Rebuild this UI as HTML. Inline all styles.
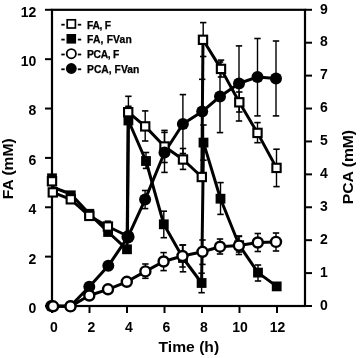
<!DOCTYPE html>
<html><head><meta charset="utf-8"><style>
html,body{margin:0;padding:0;background:#fff;}
body{width:360px;height:358px;overflow:hidden;}
svg{display:block;will-change:transform;}
text{font-family:"Liberation Sans",sans-serif;font-weight:bold;fill:#000;stroke:none;font-size:14px;}
text.lg{font-size:10.3px;stroke:#000;stroke-width:0.25px;}
text.at{font-size:15px;}
</style></head><body>
<svg width="360" height="358" viewBox="0 0 360 358">
<rect width="360" height="358" fill="#fff"/>
<g stroke="#000" stroke-linecap="butt">
<rect x="52.00" y="9.80" width="253.00" height="296.20" fill="none" stroke-width="2.2"/>
<line x1="45" y1="306.00" x2="52.00" y2="306.00" stroke-width="2"/>
<line x1="45" y1="256.63" x2="52.00" y2="256.63" stroke-width="2"/>
<line x1="45" y1="207.27" x2="52.00" y2="207.27" stroke-width="2"/>
<line x1="45" y1="157.90" x2="52.00" y2="157.90" stroke-width="2"/>
<line x1="45" y1="108.53" x2="52.00" y2="108.53" stroke-width="2"/>
<line x1="45" y1="59.17" x2="52.00" y2="59.17" stroke-width="2"/>
<line x1="45" y1="9.80" x2="52.00" y2="9.80" stroke-width="2"/>
<line x1="305" y1="306.00" x2="312" y2="306.00" stroke-width="2"/>
<line x1="305" y1="273.09" x2="312" y2="273.09" stroke-width="2"/>
<line x1="305" y1="240.18" x2="312" y2="240.18" stroke-width="2"/>
<line x1="305" y1="207.27" x2="312" y2="207.27" stroke-width="2"/>
<line x1="305" y1="174.36" x2="312" y2="174.36" stroke-width="2"/>
<line x1="305" y1="141.44" x2="312" y2="141.44" stroke-width="2"/>
<line x1="305" y1="108.53" x2="312" y2="108.53" stroke-width="2"/>
<line x1="305" y1="75.62" x2="312" y2="75.62" stroke-width="2"/>
<line x1="305" y1="42.71" x2="312" y2="42.71" stroke-width="2"/>
<line x1="305" y1="9.80" x2="312" y2="9.80" stroke-width="2"/>
<line x1="52.00" y1="306.00" x2="52.00" y2="313" stroke-width="2"/>
<line x1="89.50" y1="306.00" x2="89.50" y2="313" stroke-width="2"/>
<line x1="127.00" y1="306.00" x2="127.00" y2="313" stroke-width="2"/>
<line x1="164.50" y1="306.00" x2="164.50" y2="313" stroke-width="2"/>
<line x1="202.00" y1="306.00" x2="202.00" y2="313" stroke-width="2"/>
<line x1="239.50" y1="306.00" x2="239.50" y2="313" stroke-width="2"/>
<line x1="277.00" y1="306.00" x2="277.00" y2="313" stroke-width="2"/>
<line x1="128.40" y1="96.30" x2="128.40" y2="106.30" stroke-width="1.4"/>
<line x1="125.20" y1="96.30" x2="131.60" y2="96.30" stroke-width="1.6"/>
<line x1="125.20" y1="106.30" x2="131.60" y2="106.30" stroke-width="1.6"/>
<line x1="145.20" y1="110.90" x2="145.20" y2="141.00" stroke-width="1.4"/>
<line x1="142.00" y1="110.90" x2="148.40" y2="110.90" stroke-width="1.6"/>
<line x1="142.00" y1="141.00" x2="148.40" y2="141.00" stroke-width="1.6"/>
<line x1="164.50" y1="130.40" x2="164.50" y2="162.50" stroke-width="1.4"/>
<line x1="161.30" y1="130.40" x2="167.70" y2="130.40" stroke-width="1.6"/>
<line x1="161.30" y1="162.50" x2="167.70" y2="162.50" stroke-width="1.6"/>
<line x1="183.00" y1="148.50" x2="183.00" y2="169.40" stroke-width="1.4"/>
<line x1="179.80" y1="148.50" x2="186.20" y2="148.50" stroke-width="1.6"/>
<line x1="179.80" y1="169.40" x2="186.20" y2="169.40" stroke-width="1.6"/>
<line x1="203.20" y1="22.60" x2="203.20" y2="56.50" stroke-width="1.4"/>
<line x1="200.00" y1="22.60" x2="206.40" y2="22.60" stroke-width="1.6"/>
<line x1="200.00" y1="56.50" x2="206.40" y2="56.50" stroke-width="1.6"/>
<line x1="221.00" y1="60.10" x2="221.00" y2="77.00" stroke-width="1.4"/>
<line x1="217.80" y1="60.10" x2="224.20" y2="60.10" stroke-width="1.6"/>
<line x1="217.80" y1="77.00" x2="224.20" y2="77.00" stroke-width="1.6"/>
<line x1="239.30" y1="92.00" x2="239.30" y2="112.00" stroke-width="1.4"/>
<line x1="236.10" y1="92.00" x2="242.50" y2="92.00" stroke-width="1.6"/>
<line x1="236.10" y1="112.00" x2="242.50" y2="112.00" stroke-width="1.6"/>
<line x1="257.50" y1="122.60" x2="257.50" y2="142.70" stroke-width="1.4"/>
<line x1="254.30" y1="122.60" x2="260.70" y2="122.60" stroke-width="1.6"/>
<line x1="254.30" y1="142.70" x2="260.70" y2="142.70" stroke-width="1.6"/>
<line x1="276.50" y1="149.20" x2="276.50" y2="186.60" stroke-width="1.4"/>
<line x1="273.30" y1="149.20" x2="279.70" y2="149.20" stroke-width="1.6"/>
<line x1="273.30" y1="186.60" x2="279.70" y2="186.60" stroke-width="1.6"/>
<line x1="146.00" y1="152.50" x2="146.00" y2="168.40" stroke-width="1.4"/>
<line x1="142.80" y1="152.50" x2="149.20" y2="152.50" stroke-width="1.6"/>
<line x1="142.80" y1="168.40" x2="149.20" y2="168.40" stroke-width="1.6"/>
<line x1="163.80" y1="211.20" x2="163.80" y2="237.70" stroke-width="1.4"/>
<line x1="160.60" y1="211.20" x2="167.00" y2="211.20" stroke-width="1.6"/>
<line x1="160.60" y1="237.70" x2="167.00" y2="237.70" stroke-width="1.6"/>
<line x1="183.00" y1="245.00" x2="183.00" y2="271.80" stroke-width="1.4"/>
<line x1="179.80" y1="245.00" x2="186.20" y2="245.00" stroke-width="1.6"/>
<line x1="179.80" y1="271.80" x2="186.20" y2="271.80" stroke-width="1.6"/>
<line x1="201.60" y1="273.20" x2="201.60" y2="292.70" stroke-width="1.4"/>
<line x1="198.40" y1="273.20" x2="204.80" y2="273.20" stroke-width="1.6"/>
<line x1="198.40" y1="292.70" x2="204.80" y2="292.70" stroke-width="1.6"/>
<line x1="203.50" y1="125.00" x2="203.50" y2="160.20" stroke-width="1.4"/>
<line x1="200.30" y1="125.00" x2="206.70" y2="125.00" stroke-width="1.6"/>
<line x1="200.30" y1="160.20" x2="206.70" y2="160.20" stroke-width="1.6"/>
<line x1="220.50" y1="182.60" x2="220.50" y2="214.40" stroke-width="1.4"/>
<line x1="217.30" y1="182.60" x2="223.70" y2="182.60" stroke-width="1.6"/>
<line x1="217.30" y1="214.40" x2="223.70" y2="214.40" stroke-width="1.6"/>
<line x1="258.00" y1="265.00" x2="258.00" y2="281.00" stroke-width="1.4"/>
<line x1="254.80" y1="265.00" x2="261.20" y2="265.00" stroke-width="1.6"/>
<line x1="254.80" y1="281.00" x2="261.20" y2="281.00" stroke-width="1.6"/>
<line x1="239.00" y1="236.00" x2="239.00" y2="252.00" stroke-width="1.4"/>
<line x1="235.80" y1="236.00" x2="242.20" y2="236.00" stroke-width="1.6"/>
<line x1="235.80" y1="252.00" x2="242.20" y2="252.00" stroke-width="1.6"/>
<line x1="107.90" y1="221.20" x2="107.90" y2="231.20" stroke-width="1.4"/>
<line x1="104.70" y1="221.20" x2="111.10" y2="221.20" stroke-width="1.6"/>
<line x1="104.70" y1="231.20" x2="111.10" y2="231.20" stroke-width="1.6"/>
<line x1="145.10" y1="190.50" x2="145.10" y2="208.60" stroke-width="1.4"/>
<line x1="141.90" y1="190.50" x2="148.30" y2="190.50" stroke-width="1.6"/>
<line x1="141.90" y1="208.60" x2="148.30" y2="208.60" stroke-width="1.6"/>
<line x1="164.50" y1="132.40" x2="164.50" y2="172.40" stroke-width="1.4"/>
<line x1="161.30" y1="132.40" x2="167.70" y2="132.40" stroke-width="1.6"/>
<line x1="161.30" y1="172.40" x2="167.70" y2="172.40" stroke-width="1.6"/>
<line x1="182.90" y1="94.60" x2="182.90" y2="153.50" stroke-width="1.4"/>
<line x1="179.70" y1="94.60" x2="186.10" y2="94.60" stroke-width="1.6"/>
<line x1="179.70" y1="153.50" x2="186.10" y2="153.50" stroke-width="1.6"/>
<line x1="202.20" y1="79.30" x2="202.20" y2="144.00" stroke-width="1.4"/>
<line x1="199.00" y1="79.30" x2="205.40" y2="79.30" stroke-width="1.6"/>
<line x1="199.00" y1="144.00" x2="205.40" y2="144.00" stroke-width="1.6"/>
<line x1="220.00" y1="62.00" x2="220.00" y2="132.60" stroke-width="1.4"/>
<line x1="216.80" y1="62.00" x2="223.20" y2="62.00" stroke-width="1.6"/>
<line x1="216.80" y1="132.60" x2="223.20" y2="132.60" stroke-width="1.6"/>
<line x1="239.00" y1="45.90" x2="239.00" y2="121.00" stroke-width="1.4"/>
<line x1="235.80" y1="45.90" x2="242.20" y2="45.90" stroke-width="1.6"/>
<line x1="235.80" y1="121.00" x2="242.20" y2="121.00" stroke-width="1.6"/>
<line x1="257.50" y1="38.50" x2="257.50" y2="115.90" stroke-width="1.4"/>
<line x1="254.30" y1="38.50" x2="260.70" y2="38.50" stroke-width="1.6"/>
<line x1="254.30" y1="115.90" x2="260.70" y2="115.90" stroke-width="1.6"/>
<line x1="276.00" y1="41.00" x2="276.00" y2="115.90" stroke-width="1.4"/>
<line x1="272.80" y1="41.00" x2="279.20" y2="41.00" stroke-width="1.6"/>
<line x1="272.80" y1="115.90" x2="279.20" y2="115.90" stroke-width="1.6"/>
<line x1="145.40" y1="264.00" x2="145.40" y2="278.30" stroke-width="1.4"/>
<line x1="142.20" y1="264.00" x2="148.60" y2="264.00" stroke-width="1.6"/>
<line x1="142.20" y1="278.30" x2="148.60" y2="278.30" stroke-width="1.6"/>
<line x1="163.60" y1="252.60" x2="163.60" y2="270.60" stroke-width="1.4"/>
<line x1="160.40" y1="252.60" x2="166.80" y2="252.60" stroke-width="1.6"/>
<line x1="160.40" y1="270.60" x2="166.80" y2="270.60" stroke-width="1.6"/>
<line x1="182.50" y1="245.00" x2="182.50" y2="267.00" stroke-width="1.4"/>
<line x1="179.30" y1="245.00" x2="185.70" y2="245.00" stroke-width="1.6"/>
<line x1="179.30" y1="267.00" x2="185.70" y2="267.00" stroke-width="1.6"/>
<line x1="202.50" y1="240.00" x2="202.50" y2="264.40" stroke-width="1.4"/>
<line x1="199.30" y1="240.00" x2="205.70" y2="240.00" stroke-width="1.6"/>
<line x1="199.30" y1="264.40" x2="205.70" y2="264.40" stroke-width="1.6"/>
<line x1="220.00" y1="239.00" x2="220.00" y2="254.00" stroke-width="1.4"/>
<line x1="216.80" y1="239.00" x2="223.20" y2="239.00" stroke-width="1.6"/>
<line x1="216.80" y1="254.00" x2="223.20" y2="254.00" stroke-width="1.6"/>
<line x1="238.90" y1="236.50" x2="238.90" y2="254.50" stroke-width="1.4"/>
<line x1="235.70" y1="236.50" x2="242.10" y2="236.50" stroke-width="1.6"/>
<line x1="235.70" y1="254.50" x2="242.10" y2="254.50" stroke-width="1.6"/>
<line x1="257.80" y1="233.50" x2="257.80" y2="251.50" stroke-width="1.4"/>
<line x1="254.60" y1="233.50" x2="261.00" y2="233.50" stroke-width="1.6"/>
<line x1="254.60" y1="251.50" x2="261.00" y2="251.50" stroke-width="1.6"/>
<line x1="276.00" y1="233.00" x2="276.00" y2="251.00" stroke-width="1.4"/>
<line x1="272.80" y1="233.00" x2="279.20" y2="233.00" stroke-width="1.6"/>
<line x1="272.80" y1="251.00" x2="279.20" y2="251.00" stroke-width="1.6"/>
<polyline points="52.80,192.40 70.80,199.30 89.30,215.90 107.90,226.50 127.50,236.00" fill="none" stroke-width="3.0" stroke-linejoin="round"/>
<polyline points="128.20,112.20 145.20,126.40 164.50,146.50 183.00,159.50 201.80,177.00" fill="none" stroke-width="3.0" stroke-linejoin="round"/>
<polyline points="203.00,39.80 221.00,68.90 239.30,102.30 257.50,132.90 276.50,167.90" fill="none" stroke-width="3.0" stroke-linejoin="round"/>
<line x1="127.50" y1="236.00" x2="128.20" y2="112.20" stroke-width="3.0"/>
<line x1="201.80" y1="177.00" x2="203.00" y2="39.80" stroke-width="3.0"/>
<polyline points="52.00,187.00 70.80,194.00 89.30,213.80 108.10,232.00 127.00,249.30" fill="none" stroke-width="3.0" stroke-linejoin="round"/>
<polyline points="128.40,120.50 146.00,161.00 163.80,224.30 183.00,258.00 201.60,283.00" fill="none" stroke-width="3.0" stroke-linejoin="round"/>
<polyline points="203.50,142.60 220.50,198.70 239.20,245.20 258.00,272.60 276.70,286.40" fill="none" stroke-width="3.0" stroke-linejoin="round"/>
<line x1="127.00" y1="249.30" x2="128.40" y2="120.50" stroke-width="3.0"/>
<line x1="201.60" y1="283.00" x2="203.50" y2="142.60" stroke-width="3.0"/>
<polyline points="53.10,306.30 70.50,306.40 89.30,295.50 108.00,289.30 126.80,281.80 145.40,271.40 163.60,261.50 182.50,256.00 202.50,251.80 220.00,246.70 238.90,245.60 257.80,242.50 276.00,241.90" fill="none" stroke-width="3.0" stroke-linejoin="round"/>
<polyline points="51.20,306.00 70.50,306.00 89.30,286.80 108.30,265.80 128.00,236.80 145.10,199.60 164.50,152.50 182.90,124.00 202.20,111.60 220.00,96.50 239.00,83.40 257.50,77.00 276.00,78.50" fill="none" stroke-width="3.0" stroke-linejoin="round"/>
<rect x="47.10" y="173.40" width="9.8" height="9.8" fill="#000" stroke="none"/>
<rect x="65.90" y="190.40" width="9.8" height="9.8" fill="#000" stroke="none"/>
<rect x="84.40" y="208.90" width="9.8" height="9.8" fill="#000" stroke="none"/>
<rect x="103.20" y="227.10" width="9.8" height="9.8" fill="#000" stroke="none"/>
<rect x="122.10" y="244.40" width="9.8" height="9.8" fill="#000" stroke="none"/>
<rect x="123.50" y="115.60" width="9.8" height="9.8" fill="#000" stroke="none"/>
<rect x="141.10" y="156.10" width="9.8" height="9.8" fill="#000" stroke="none"/>
<rect x="158.90" y="219.40" width="9.8" height="9.8" fill="#000" stroke="none"/>
<rect x="178.10" y="253.10" width="9.8" height="9.8" fill="#000" stroke="none"/>
<rect x="196.70" y="278.10" width="9.8" height="9.8" fill="#000" stroke="none"/>
<rect x="198.60" y="137.70" width="9.8" height="9.8" fill="#000" stroke="none"/>
<rect x="215.60" y="193.80" width="9.8" height="9.8" fill="#000" stroke="none"/>
<rect x="234.30" y="240.30" width="9.8" height="9.8" fill="#000" stroke="none"/>
<rect x="253.10" y="267.70" width="9.8" height="9.8" fill="#000" stroke="none"/>
<rect x="271.80" y="281.50" width="9.8" height="9.8" fill="#000" stroke="none"/>
<rect x="48.65" y="188.25" width="8.3" height="8.3" fill="#fff" stroke-width="2.1"/>
<rect x="66.65" y="195.15" width="8.3" height="8.3" fill="#fff" stroke-width="2.1"/>
<rect x="85.15" y="211.75" width="8.3" height="8.3" fill="#fff" stroke-width="2.1"/>
<rect x="103.75" y="222.35" width="8.3" height="8.3" fill="#fff" stroke-width="2.1"/>
<rect x="124.05" y="108.05" width="8.3" height="8.3" fill="#fff" stroke-width="2.1"/>
<rect x="141.05" y="122.25" width="8.3" height="8.3" fill="#fff" stroke-width="2.1"/>
<rect x="160.35" y="142.35" width="8.3" height="8.3" fill="#fff" stroke-width="2.1"/>
<rect x="178.85" y="155.35" width="8.3" height="8.3" fill="#fff" stroke-width="2.1"/>
<rect x="197.65" y="172.85" width="8.3" height="8.3" fill="#fff" stroke-width="2.1"/>
<rect x="198.85" y="35.65" width="8.3" height="8.3" fill="#fff" stroke-width="2.1"/>
<rect x="216.85" y="64.75" width="8.3" height="8.3" fill="#fff" stroke-width="2.1"/>
<rect x="235.15" y="98.15" width="8.3" height="8.3" fill="#fff" stroke-width="2.1"/>
<rect x="253.35" y="128.75" width="8.3" height="8.3" fill="#fff" stroke-width="2.1"/>
<rect x="272.35" y="163.75" width="8.3" height="8.3" fill="#fff" stroke-width="2.1"/>
<rect x="47.85" y="177.15" width="8.3" height="8.3" fill="#fff" stroke-width="2.1"/>
<circle cx="51.20" cy="306.00" r="6.0" fill="#000" stroke="none"/>
<circle cx="70.50" cy="306.00" r="6.0" fill="#000" stroke="none"/>
<circle cx="89.30" cy="286.80" r="6.0" fill="#000" stroke="none"/>
<circle cx="108.30" cy="265.80" r="6.0" fill="#000" stroke="none"/>
<circle cx="128.00" cy="236.80" r="6.0" fill="#000" stroke="none"/>
<circle cx="145.10" cy="199.60" r="6.0" fill="#000" stroke="none"/>
<circle cx="164.50" cy="152.50" r="6.0" fill="#000" stroke="none"/>
<circle cx="182.90" cy="124.00" r="6.0" fill="#000" stroke="none"/>
<circle cx="202.20" cy="111.60" r="6.0" fill="#000" stroke="none"/>
<circle cx="220.00" cy="96.50" r="6.0" fill="#000" stroke="none"/>
<circle cx="239.00" cy="83.40" r="6.0" fill="#000" stroke="none"/>
<circle cx="257.50" cy="77.00" r="6.0" fill="#000" stroke="none"/>
<circle cx="276.00" cy="78.50" r="6.0" fill="#000" stroke="none"/>
<circle cx="128" cy="236.8" r="6.6" fill="#000" stroke="none"/>
<circle cx="53.10" cy="306.30" r="5.0" fill="#fff" stroke-width="2.4"/>
<circle cx="70.50" cy="306.40" r="5.0" fill="#fff" stroke-width="2.4"/>
<circle cx="89.30" cy="295.50" r="5.0" fill="#fff" stroke-width="2.4"/>
<circle cx="108.00" cy="289.30" r="5.0" fill="#fff" stroke-width="2.4"/>
<circle cx="126.80" cy="281.80" r="5.0" fill="#fff" stroke-width="2.4"/>
<circle cx="145.40" cy="271.40" r="5.0" fill="#fff" stroke-width="2.4"/>
<circle cx="163.60" cy="261.50" r="5.0" fill="#fff" stroke-width="2.4"/>
<circle cx="182.50" cy="256.00" r="5.0" fill="#fff" stroke-width="2.4"/>
<circle cx="202.50" cy="251.80" r="5.0" fill="#fff" stroke-width="2.4"/>
<circle cx="220.00" cy="246.70" r="5.0" fill="#fff" stroke-width="2.4"/>
<circle cx="238.90" cy="245.60" r="5.0" fill="#fff" stroke-width="2.4"/>
<circle cx="257.80" cy="242.50" r="5.0" fill="#fff" stroke-width="2.4"/>
<circle cx="276.00" cy="241.90" r="5.0" fill="#fff" stroke-width="2.4"/>
<line x1="61.3" y1="24.70" x2="64.7" y2="24.70" stroke-width="1.8"/>
<line x1="77.8" y1="24.70" x2="81.2" y2="24.70" stroke-width="1.8"/>
<rect x="67.20" y="19.80" width="8.2" height="8.2" fill="#fff" stroke-width="1.7"/>
<text x="87.0" y="28.50" class="lg" textLength="24.0" lengthAdjust="spacing">FA, F</text>
<line x1="61.3" y1="39.60" x2="64.7" y2="39.60" stroke-width="1.8"/>
<line x1="77.8" y1="39.60" x2="81.2" y2="39.60" stroke-width="1.8"/>
<rect x="66.50" y="34.00" width="9.6" height="9.6" fill="#000" stroke="none"/>
<text x="87.0" y="43.20" class="lg" textLength="44.8" lengthAdjust="spacing">FA, FVan</text>
<line x1="61.3" y1="54.50" x2="64.7" y2="54.50" stroke-width="1.8"/>
<line x1="77.8" y1="54.50" x2="81.2" y2="54.50" stroke-width="1.8"/>
<circle cx="71.30" cy="53.70" r="4.6" fill="#fff" stroke-width="1.8"/>
<text x="87.0" y="58.00" class="lg" textLength="32.3" lengthAdjust="spacing">PCA, F</text>
<line x1="61.3" y1="69.30" x2="64.7" y2="69.30" stroke-width="1.8"/>
<line x1="77.8" y1="69.30" x2="81.2" y2="69.30" stroke-width="1.8"/>
<circle cx="71.30" cy="68.50" r="5.4" fill="#000" stroke="none"/>
<text x="87.0" y="72.70" class="lg" textLength="52.3" lengthAdjust="spacing">PCA, FVan</text>
</g>
<text x="36.3" y="312.90" text-anchor="end">0</text>
<text x="36.3" y="263.53" text-anchor="end">2</text>
<text x="36.3" y="214.17" text-anchor="end">4</text>
<text x="36.3" y="164.80" text-anchor="end">6</text>
<text x="36.3" y="115.43" text-anchor="end">8</text>
<text x="36.3" y="66.07" text-anchor="end">10</text>
<text x="36.3" y="16.70" text-anchor="end">12</text>
<text x="320.0" y="309.70">0</text>
<text x="320.0" y="276.79">1</text>
<text x="320.0" y="243.88">2</text>
<text x="320.0" y="210.97">3</text>
<text x="320.0" y="178.06">4</text>
<text x="320.0" y="145.14">5</text>
<text x="320.0" y="112.23">6</text>
<text x="320.0" y="79.32">7</text>
<text x="320.0" y="46.41">8</text>
<text x="320.0" y="13.50">9</text>
<text x="54.00" y="331.9" text-anchor="middle">0</text>
<text x="91.50" y="331.9" text-anchor="middle">2</text>
<text x="129.00" y="331.9" text-anchor="middle">4</text>
<text x="166.50" y="331.9" text-anchor="middle">6</text>
<text x="204.00" y="331.9" text-anchor="middle">8</text>
<text x="240.00" y="331.9" text-anchor="middle">10</text>
<text x="277.50" y="331.9" text-anchor="middle">12</text>
<text class="at" x="158.6" y="351.8" textLength="60.5" lengthAdjust="spacingAndGlyphs">Time (h)</text>
<text class="at" transform="translate(12.9,199.2) rotate(-90)" textLength="60.8" lengthAdjust="spacingAndGlyphs">FA (mM)</text>
<text class="at" transform="translate(353,204.2) rotate(-90)" textLength="74.3" lengthAdjust="spacingAndGlyphs">PCA (mM)</text>
</svg>
</body></html>
